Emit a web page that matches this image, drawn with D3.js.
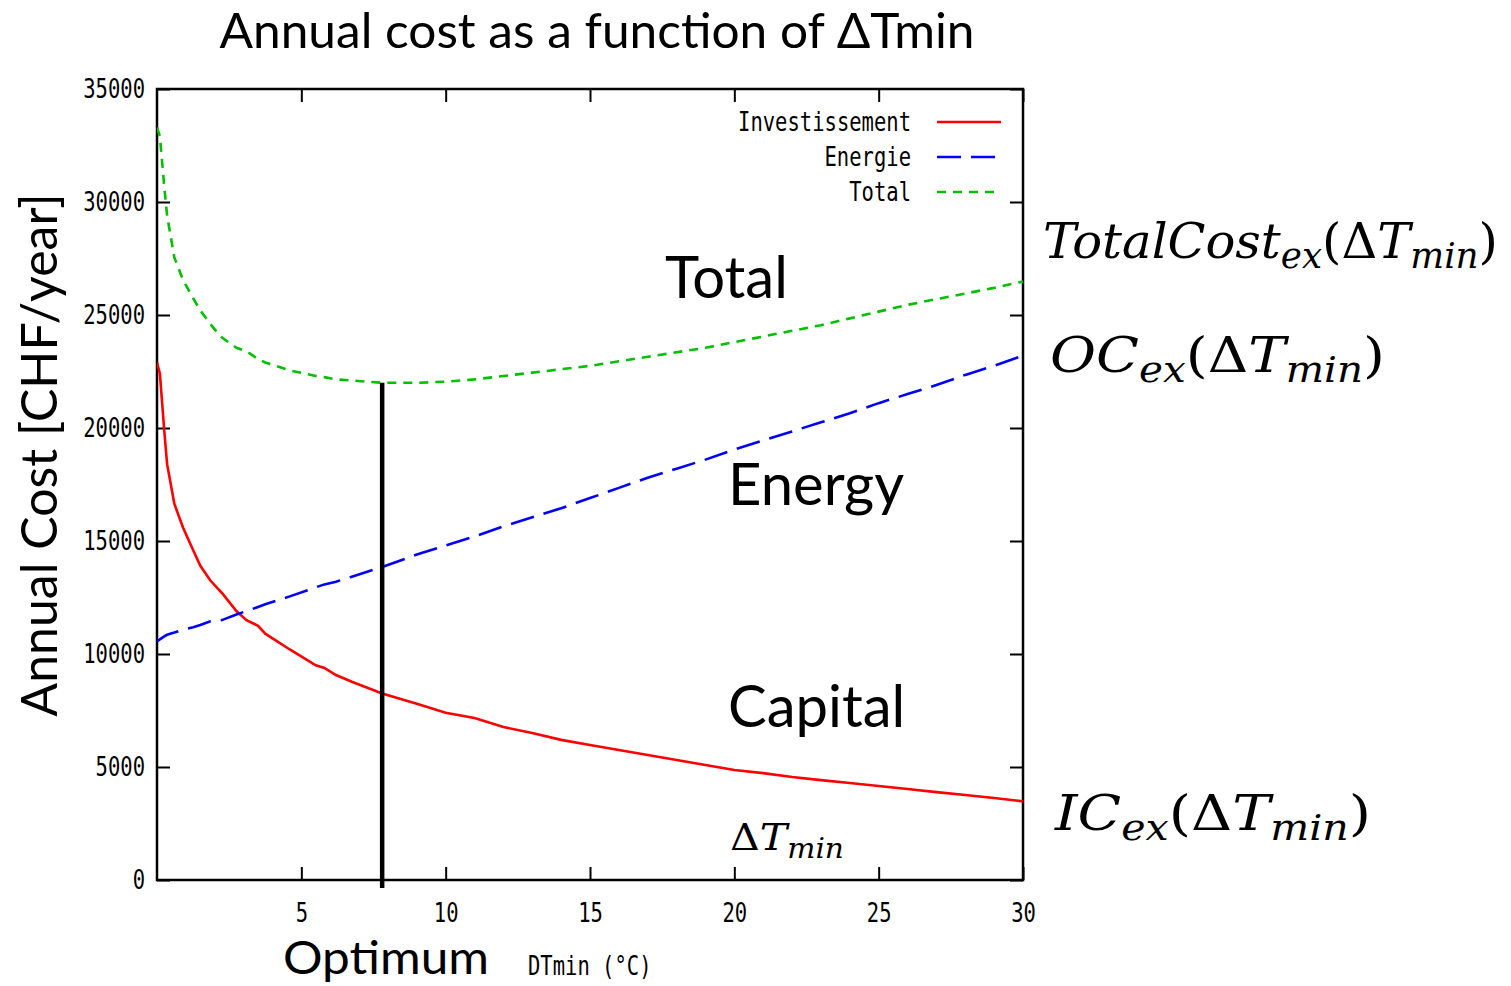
<!DOCTYPE html>
<html>
<head>
<meta charset="utf-8">
<script src="https://cdn.jsdelivr.net/npm/d3@7"></script>
<style>
  body { margin: 0; background: #fff; }
  svg { display: block; }
</style>
</head>
<body>
<div id="chart"></div>
<script>
// DTmin samples (°C)
const dtMin = [0, 0.1, 0.25, 0.35, 0.6, 0.9, 1.25, 1.5, 1.85, 2.1, 2.25, 2.75, 3.1, 3.5, 3.75,
  4.6, 5.5, 5.8, 6.2, 6.75, 7.8, 9, 10, 11, 12, 13, 14, 15, 16, 17, 18, 19, 20,
  21, 22, 23, 24, 25, 26, 27, 28, 29, 30];

// annual cost series (CHF/year)
const investissement = [22900, 22400, 19900, 18400, 16650, 15600, 14600, 13900, 13250, 12900, 12700, 11900, 11500, 11250, 10900,
  10200, 9500, 9380, 9070, 8770, 8250, 7800, 7400, 7170, 6770, 6500, 6200, 5970, 5750, 5530, 5310, 5090, 4870,
  4730, 4560, 4420, 4290, 4160, 4030, 3890, 3760, 3630, 3480];
const energie = [10550, 10650, 10780, 10850, 10950, 11080, 11180, 11280, 11450, 11480, 11500, 11750, 11900, 12080, 12200,
  12550, 12950, 13080, 13200, 13420, 13850, 14400, 14800, 15200, 15650, 16050, 16450, 16900, 17350, 17800, 18200, 18600, 19050,
  19450, 19850, 20250, 20650, 21100, 21500, 21900, 22350, 22750, 23200];
const total = [33300, 32900, 30700, 29400, 27550, 26550, 25750, 25200, 24600, 24200, 24000, 23550, 23400, 23050, 22900,
  22550, 22300, 22250, 22150, 22100, 22000, 22000, 22050, 22150, 22300, 22450, 22600, 22750, 22950, 23150, 23350, 23550, 23800,
  24050, 24300, 24550, 24850, 25150, 25450, 25700, 25950, 26200, 26480];

const xTicks = [5, 10, 15, 20, 25, 30];
const yTicks = [0, 5000, 10000, 15000, 20000, 25000, 30000, 35000];
const optimum = { dt: 7.8, cost: 22000 };

const seriesNames = ['Investissement', 'Energie', 'Total'];
const seriesColors = ['#ff0000', '#0000ff', '#00c000'];
const seriesDash = [null, '24,10', '9,7'];

const W = 1511, H = 986;
const margin = { top: 89, right: 488, bottom: 106, left: 157 };
const width = W - margin.left - margin.right;
const height = H - margin.top - margin.bottom;

const svg = d3.select('#chart').append('svg')
  .attr('width', W).attr('height', H)
  .style('background', '#fff');

const x = d3.scaleLinear().domain([0, 30]).range([0, width]);
const y = d3.scaleLinear().domain([0, 35000]).range([height, 0]);

const g = svg.append('g').attr('transform', `translate(${margin.left},${margin.top})`);

const monoFont = '"DejaVu Sans Mono", monospace';
const gillFont = 'Lato, "Open Sans", sans-serif';
const mathFont = '"DejaVu Serif", "Liberation Serif", serif';
const monoSize = 27, squeeze = 0.76;

// narrow the mono text so it looks like gnuplot's condensed font
const condense = function () {
  d3.select(this)
    .attr('textLength', this.getComputedTextLength() * squeeze)
    .attr('lengthAdjust', 'spacingAndGlyphs');
};

// axes: gnuplot style, inward ticks mirrored on all sides
const tickLen = 13;
const styleAxis = (sel) => {
  sel.select('.domain').remove();
  sel.selectAll('line').attr('stroke', '#000').attr('stroke-width', 2);
  sel.selectAll('text')
    .attr('font-family', monoFont)
    .attr('font-size', monoSize)
    .attr('fill', '#000');
};

const xAxis = g.append('g').attr('transform', `translate(0,${height})`)
  .call(d3.axisBottom(x).tickValues(xTicks).tickSizeInner(-tickLen).tickPadding(23).tickFormat(d3.format('d')))
  .call(styleAxis);

g.append('g')
  .call(d3.axisTop(x).tickValues(xTicks).tickSizeInner(-tickLen).tickFormat(''))
  .call(styleAxis);

const yAxis = g.append('g')
  .call(d3.axisLeft(y).tickValues(yTicks).tickSizeInner(-tickLen).tickPadding(12).tickFormat(d3.format('d')))
  .call(styleAxis);

g.append('g').attr('transform', `translate(${width},0)`)
  .call(d3.axisRight(y).tickValues(yTicks).tickSizeInner(-tickLen).tickFormat(''))
  .call(styleAxis);

xAxis.selectAll('text').each(condense);
yAxis.selectAll('text').each(condense);

// frame
g.append('rect')
  .attr('x', 0).attr('y', 0).attr('width', width).attr('height', height)
  .attr('fill', 'none').attr('stroke', '#000').attr('stroke-width', 2.5);

// curves
const seriesData = [investissement, energie, total];
const line = d3.line().x((d, i) => x(dtMin[i])).y(d => y(d));

g.append('defs').append('clipPath').attr('id', 'clip')
  .append('rect').attr('width', width).attr('height', height);

seriesData.forEach((vals, k) => {
  g.append('path')
    .datum(vals)
    .attr('clip-path', 'url(#clip)')
    .attr('fill', 'none')
    .attr('stroke', seriesColors[k])
    .attr('stroke-width', 2.6)
    .attr('stroke-dasharray', seriesDash[k])
    .attr('d', line);
});

// optimum line
g.append('line')
  .attr('x1', x(optimum.dt)).attr('x2', x(optimum.dt))
  .attr('y1', y(optimum.cost)).attr('y2', y(0) + 8)
  .attr('stroke', '#000').attr('stroke-width', 4.5);

// legend
const legend = g.append('g').attr('transform', `translate(${x(30)}, 0)`);
seriesNames.forEach((name, k) => {
  const ly = 33 + k * 35;
  legend.append('text')
    .attr('x', -112).attr('y', ly)
    .attr('dy', '0.35em')
    .attr('text-anchor', 'end')
    .attr('font-family', monoFont)
    .attr('font-size', monoSize)
    .text(name)
    .each(condense);
  legend.append('line')
    .attr('x1', -86).attr('x2', -22)
    .attr('y1', ly).attr('y2', ly)
    .attr('stroke', seriesColors[k])
    .attr('stroke-width', 2.6)
    .attr('stroke-dasharray', seriesDash[k]);
});

// titles
svg.append('text')
  .attr('x', 597).attr('y', 48)
  .attr('text-anchor', 'middle')
  .attr('font-family', gillFont)
  .attr('font-size', 48)
  .attr('textLength', 755).attr('lengthAdjust', 'spacingAndGlyphs')
  .text('Annual cost as a function of ΔTmin');

svg.append('text')
  .attr('transform', `translate(57,455) rotate(-90)`)
  .attr('text-anchor', 'middle')
  .attr('font-family', gillFont)
  .attr('font-size', 50)
  .text('Annual Cost [CHF/year]');

svg.append('text')
  .attr('x', 528).attr('y', 975)
  .attr('font-family', monoFont)
  .attr('font-size', monoSize)
  .text('DTmin (°C)')
  .each(condense);

svg.append('text')
  .attr('x', 386).attr('y', 974)
  .attr('text-anchor', 'middle')
  .attr('font-family', gillFont)
  .attr('font-size', 46)
  .attr('textLength', 206).attr('lengthAdjust', 'spacingAndGlyphs')
  .text('Optimum');

// curve labels inside the plot
const bigLabels = [
  { t: 'Total', x: 665, y: 298 },
  { t: 'Energy', x: 728, y: 505 },
  { t: 'Capital', x: 728, y: 727 }
];
bigLabels.forEach(d => {
  svg.append('text')
    .attr('x', d.x).attr('y', d.y)
    .attr('font-family', gillFont)
    .attr('font-size', 58)
    .text(d.t);
});

// math-style labels
function mathLabel(xp, yp, size, base, sub, span) {
  const t = svg.append('text')
    .attr('x', xp).attr('y', yp)
    .attr('font-family', mathFont)
    .attr('font-size', size)
    .attr('textLength', span)
    .attr('lengthAdjust', 'spacingAndGlyphs');
  if (base) {
    t.append('tspan').attr('font-style', 'italic').text(base);
    t.append('tspan').attr('font-style', 'italic').attr('font-size', size * 0.72).attr('dy', size * 0.2).text(sub);
    t.append('tspan').attr('dy', -size * 0.2).text('(');
  }
  t.append('tspan').text('Δ');
  t.append('tspan').attr('font-style', 'italic').text('T');
  t.append('tspan').attr('font-style', 'italic').attr('font-size', size * 0.72).attr('dy', size * 0.2).text('min');
  if (base) t.append('tspan').attr('dy', -size * 0.2).text(')');
}
mathLabel(1043, 258, 48, 'TotalCost', 'ex', 455);
mathLabel(1050, 372, 48, 'OC', 'ex', 335);
mathLabel(1055, 830, 48, 'IC', 'ex', 316);
mathLabel(730, 850, 38, null, null, 114);
</script>
</body>
</html>
